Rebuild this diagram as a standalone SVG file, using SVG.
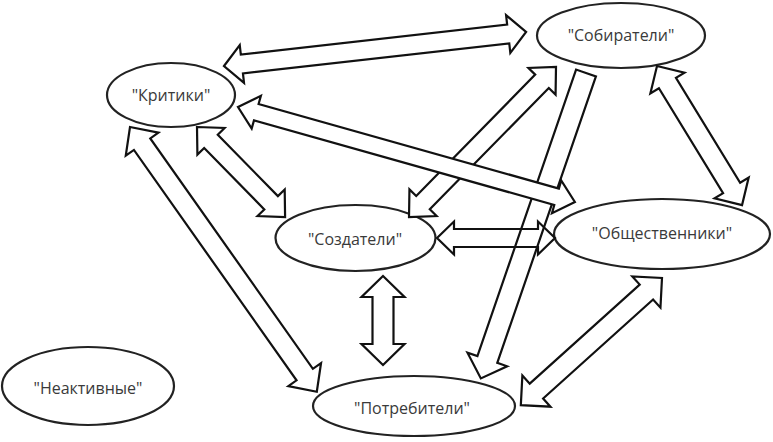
<svg xmlns="http://www.w3.org/2000/svg" width="773" height="442" viewBox="0 0 773 442">
<style>
.n ellipse{fill:#fff;stroke:#222;stroke-width:2.2}
.n text{font-family:"Open Sans","Liberation Sans",sans-serif;font-size:16px;fill:#3a3a3a;text-anchor:middle;dominant-baseline:central}
.c polygon{fill:#fff;stroke:#111;stroke-width:2.2;stroke-linejoin:miter}
.c polygon.open{fill:none}
</style>
<rect width="773" height="442" fill="#fff"/>
<g id="node-kritiki" class="n"><ellipse cx="171" cy="95" rx="64" ry="32"/><text x="171" y="95">"Критики"</text></g>
<g id="node-sobirateli" class="n"><ellipse cx="621" cy="35.5" rx="84" ry="32.5"/><text x="621" y="35">"Собиратели"</text></g>
<g id="node-sozdateli" class="n"><ellipse cx="355.5" cy="238" rx="80" ry="33"/><text x="355" y="239">"Создатели"</text></g>
<g id="node-obshchestvenniki" class="n"><ellipse cx="662" cy="234" rx="108" ry="35"/><text x="662" y="233">"Общественники"</text></g>
<g id="node-neaktivnye" class="n"><ellipse cx="88" cy="386" rx="86" ry="39"/><text x="88" y="388">"Неактивные"</text></g>
<g id="node-potrebiteli" class="n"><ellipse cx="414" cy="406" rx="101" ry="30"/><text x="412" y="408">"Потребители"</text></g>
<g id="connectors" class="c">
<polygon transform="translate(224,66) rotate(-6.42)" points="0,0 18,-19 18,-9.5 286,-9.5 286,-19 304,0 286,19 286,9.5 18,9.5 18,19"/>
<polygon transform="translate(197,127) rotate(45.64)" points="0,0 20,-19 20,-9.5 106,-9.5 106,-19 126,0 106,19 106,9.5 20,9.5 20,19"/>
<polygon transform="translate(130,127) rotate(54.79)" points="0,0 21,-20 21,-10 303,-10 303,-20 324,0 303,20 303,10 21,10 21,20"/>
<polygon transform="translate(657,66) rotate(58.55)" points="0,0 20,-20 20,-10 143,-10 143,-20 163,0 143,20 143,10 20,10 20,20"/>
<polygon transform="translate(383,276) rotate(90)" points="0,0 21,-21.5 21,-10.5 68,-10.5 68,-21.5 89,0 68,21.5 68,10.5 21,10.5 21,21.5"/>
<polygon transform="translate(662,278) rotate(137.99)" points="0,0 21,-21 21,-10 169,-10 169,-21 190,0 169,21 169,10 21,10 21,21"/>
<polygon transform="translate(556,67) rotate(134.42)" points="0,0 20,-19 20,-9.5 190,-9.5 190,-19 210,0 190,19 190,9.5 20,9.5 20,19"/>
<polygon transform="translate(586,73) rotate(109)" points="0,-10.5 303,-10.5 303,-21 323,0 303,21 303,10.5 0,10.5"/>
<polygon class="open" transform="translate(437,238)" points="0,0 17,-16.5 17,-9 101,-9 101,-16.5 118,0 101,16.5 101,9 17,9 17,16.5"/>
<polygon transform="translate(238,107) rotate(15.74)" points="0,0 19,-17 19,-8.5 331,-8.5 331,-17 350,0 331,17 331,8.5 19,8.5 19,17"/>
</g>
</svg>
